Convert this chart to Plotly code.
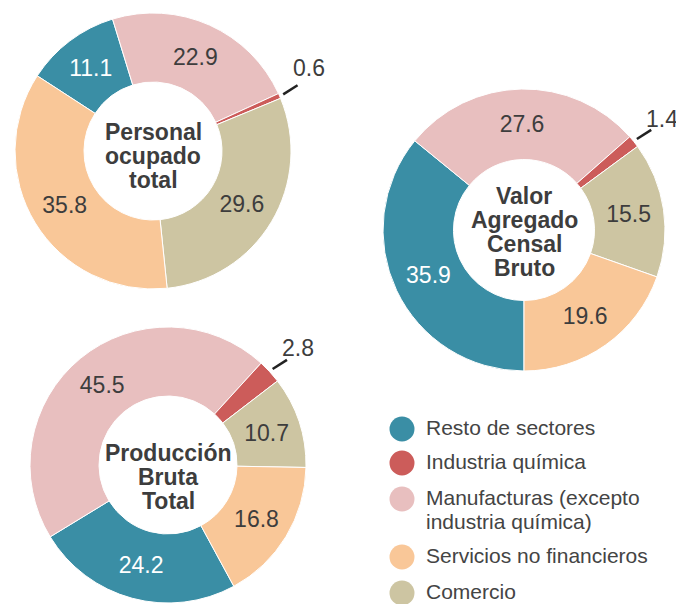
import math
import plotly.graph_objects as go

W, H = 684, 604

# orden de las porciones (sentido horario)
sectores = ["Resto de sectores", "Manufacturas (excepto industria química)",
            "Industria química", "Comercio", "Servicios no financieros"]
colores = ["#3A8EA5", "#E8BFBF", "#CC5C5A", "#CDC5A2", "#F9C798"]

personal_ocupado = [11.1, 22.9, 0.6, 29.6, 35.8]
valor_agregado = [35.9, 27.6, 1.4, 15.5, 19.6]
produccion_bruta = [24.2, 45.5, 2.8, 10.7, 16.8]

titulo_personal = ["Personal", "ocupado", "total"]
titulo_valor = ["Valor", "Agregado", "Censal", "Bruto"]
titulo_produccion = ["Producción", "Bruta", "Total"]

# leyenda
ley_labels = ["Resto de sectores", "Industria química",
              "Manufacturas (excepto<br>industria química)",
              "Servicios no financieros", "Comercio"]
ley_colores = ["#3A8EA5", "#CC5C5A", "#E8BFBF", "#F9C798", "#CDC5A2"]

FONT = "Liberation Sans, Arial, sans-serif"
DARK = "#3d3d3d"

# (valores, titulo, centro x, centro y, radio, rotacion, desplazamiento titulo, etiqueta dy)
donas = [
    (personal_ocupado, titulo_personal, 145, 143, 138, 303, 5, -17),
    (valor_agregado, titulo_valor, 516, 222, 141, 180, 2, -11),
    (produccion_bruta, titulo_produccion, 160, 457, 138, 151.5, 12, -12),
]

fig = go.Figure()
annotations = []
shapes = []

for vals, titulo, cx, cy, r, rot, tdy, ldy in donas:
    txt = ["" if s == "Industria química" else f"{v:.1f}" for s, v in zip(sectores, vals)]
    tcol = ["white" if s == "Resto de sectores" else DARK for s in sectores]
    fig.add_trace(go.Pie(
        labels=sectores, values=vals, text=txt, textinfo="text",
        textposition="inside", insidetextorientation="horizontal",
        textfont=dict(size=23, color=tcol, family=FONT),
        marker=dict(colors=colores, line=dict(color="white", width=1)),
        hole=0.5, sort=False, direction="clockwise", rotation=rot,
        showlegend=False, hoverinfo="label+value",
        domain=dict(x=[(cx - r) / W, (cx + r) / W],
                    y=[1 - (cy + r) / H, 1 - (cy - r) / H]),
    ))

    # titulo en el centro
    n = len(titulo)
    for i, linea in enumerate(titulo):
        annotations.append(dict(
            x=cx, y=cy + tdy + (i - (n - 1) / 2) * 24, xref="x", yref="y",
            text=linea, showarrow=False, xanchor="center", yanchor="middle",
            font=dict(size=23, color=DARK, family=FONT, weight="bold")))

    # etiqueta exterior de la industria quimica
    k = sectores.index("Industria química")
    tot = sum(vals)
    mid = rot + 360 * (sum(vals[:k]) + vals[k] / 2) / tot
    a = math.radians(mid)
    x0 = cx + (r + 4) * math.sin(a)
    y0 = cy - (r + 4) * math.cos(a)
    d = math.radians(57.5)
    x1 = x0 + 17 * math.sin(d)
    y1 = y0 - 17 * math.cos(d)
    shapes.append(dict(type="line", xref="x", yref="y", x0=x0, y0=y0, x1=x1, y1=y1,
                       line=dict(color="#222222", width=2.5)))
    annotations.append(dict(
        x=x1 - 7, y=y1 + ldy, xref="x", yref="y", text=f"{vals[k]:.1f}",
        showarrow=False, xanchor="left", yanchor="middle",
        font=dict(size=23, color=DARK, family=FONT)))

# leyenda manual
ley_y = [421, 455, 491, 549, 585]
for lab, col, yy in zip(ley_labels, ley_colores, ley_y):
    shapes.append(dict(type="circle", xref="x", yref="y",
                       x0=394 - 12.5, x1=394 + 12.5, y0=yy - 12.5, y1=yy + 12.5,
                       fillcolor=col, line=dict(width=0)))
    for j, parte in enumerate(lab.split("<br>")):
        annotations.append(dict(
            x=416, y=yy - 2 + j * 24, xref="x", yref="y", text=parte,
            showarrow=False, xanchor="left", yanchor="middle",
            font=dict(size=21, color="#444444", family=FONT)))

fig.update_layout(
    width=W, height=H,
    margin=dict(l=0, r=0, t=0, b=0),
    paper_bgcolor="white", plot_bgcolor="rgba(0,0,0,0)",
    xaxis=dict(range=[0, W], visible=False, domain=[0, 1], fixedrange=True),
    yaxis=dict(range=[H, 0], visible=False, domain=[0, 1], fixedrange=True),
    annotations=annotations, shapes=shapes,
)

fig.write_html("out.html")
